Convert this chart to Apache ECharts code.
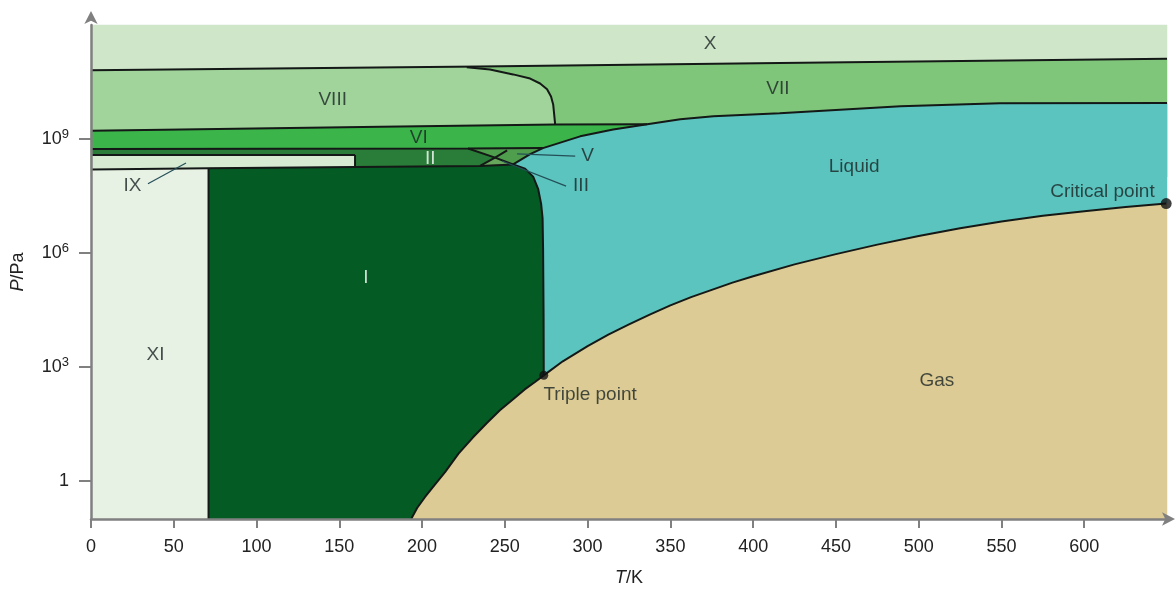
<!DOCTYPE html>
<html>
<head>
<meta charset="utf-8">
<script src="https://cdn.jsdelivr.net/npm/echarts@6/dist/echarts.min.js"></script>
<style>
  html, body { margin: 0; padding: 0; background: #fff; }
  #main { width: 1176px; height: 592px; }
</style>
</head>
<body>
<div id="main"></div>
<script>
// water phase diagram, T in K, pressure stored as log10(P/Pa)

var tTicks = [0, 50, 100, 150, 200, 250, 300, 350, 400, 450, 500, 550, 600];
var pTicks = [0, 3, 6, 9];

// phase boundaries [T, log10 P]
var xTop = [[0, 10.81], [235, 10.91], [416, 11.00], [650, 11.11]];
var viiiViiCurve = [[227, 10.89], [241, 10.83], [255, 10.70], [265.3, 10.59], [271.3, 10.46], [275.5, 10.31], [277.9, 10.12], [279.2, 9.91], [279.8, 9.65], [280.4, 9.38]];
var viTop = [[0, 9.22], [175, 9.32], [280.4, 9.38], [336, 9.39]];
var liquidTop = [[255, 8.33], [265.3, 8.60], [273, 8.76], [295.5, 9.07], [315.4, 9.25], [336, 9.39], [356, 9.52], [376, 9.60], [416, 9.68], [489, 9.86], [549, 9.94], [650, 9.95]];
var viBottom = [[0, 8.74], [227.8, 8.75], [273, 8.76]];
var iTop = [[0, 8.20], [71, 8.23], [159.5, 8.26], [235, 8.29], [255, 8.33]];
var ixTop = [[0, 8.58], [159.5, 8.58]];
var ixRight = [[159.5, 8.58], [159.5, 8.26]];
var meltCurve = [[255, 8.33], [262.2, 8.22], [267.1, 8.01], [270.1, 7.69], [271.9, 7.30], [272.8, 6.91], [273.1, 6.12], [273.4, 4.29], [273.5, 2.78]];
var sublCurve = [[273.5, 2.78], [268, 2.60], [262, 2.41], [255, 2.15], [247, 1.86], [239, 1.52], [230.8, 1.15], [222, 0.72], [214, 0.24], [207.5, -0.11], [201.8, -0.42], [197, -0.71], [193.4, -1]];
var vapCurve = [[273.5, 2.78], [285, 3.15], [300, 3.55], [312.5, 3.85], [325, 4.12], [337.5, 4.38], [350, 4.62], [362.5, 4.84], [375, 5.03], [387.5, 5.22], [400, 5.39], [425, 5.70], [450, 5.97], [475, 6.22], [500, 6.45], [525, 6.65], [550, 6.83], [575, 6.98], [600, 7.10], [625, 7.21], [649.5, 7.30]];
var xiIBoundary = [[71, -1], [71, 8.23]];
var iiVLine = [[227.8, 8.75], [244.1, 8.51], [255, 8.33]];
var iiiLine = [[235, 8.29], [244.1, 8.51], [251.4, 8.70]];

var triplePoint = [273.5, 2.78];
var criticalPoint = [649.5, 7.30];

// label anchors
var regionNames = ['X', 'VIII', 'VII', 'VI', 'II', 'V', 'III', 'IX', 'XI', 'I', 'Liquid', 'Gas', 'Critical point', 'Triple point'];
var regionLabelPos = [[374, 11.51], [146, 10.04], [415, 10.31], [198, 9.02], [205, 8.47], [300, 8.55], [296, 7.77], [25, 7.77], [39, 3.32], [166, 5.34], [461, 8.27], [511, 2.64], [611, 7.61], [301.5, 2.28]];
var pointerIX = [[34.4, 7.82], [57.4, 8.37]];
var pointerV = [[257.4, 8.61], [292.5, 8.55]];
var pointerIII = [[248.3, 8.42], [287, 7.76]];

function rev(a) { return a.slice().reverse(); }

var regions = [
  { name: 'X', color: '#cfe6c9', pts: [[0, 12], [650, 12]].concat(rev(xTop)) },
  { name: 'VII', color: '#80c67a', pts: xTop.concat([[650, 8], [0, 8]]) },
  { name: 'VIII', color: '#a1d49b', pts: [[0, 10.81]].concat(viiiViiCurve, rev(viTop.slice(0, 3))) },
  { name: 'VI', color: '#3bb54a', pts: viTop.concat(rev(liquidTop.slice(2, 6)), rev(viBottom)) },
  { name: 'II', color: '#2a7d39', pts: viBottom.slice(0, 2).concat([[244.1, 8.51], [235, 8.29]], rev(iTop.slice(0, 4))) },
  { name: 'IX', color: '#d6ebd1', pts: ixTop.concat(rev(iTop.slice(0, 3))) },
  { name: 'V', color: '#4f9e4d', pts: viBottom.slice(1).concat(rev(liquidTop.slice(0, 2)), [[244.1, 8.51]]) },
  { name: 'III', color: '#67a75c', pts: [[235, 8.29], [244.1, 8.51], [255, 8.33]] },
  { name: 'I', color: '#045c24', pts: xiIBoundary.concat(iTop.slice(2), meltCurve.slice(1), sublCurve.slice(1)) },
  { name: 'XI', color: '#e7f2e5', pts: [[0, -1]].concat(xiIBoundary, [[0, 8.20]]) },
  { name: 'Liquid', color: '#5bc4bf', pts: rev(meltCurve).concat(liquidTop.slice(1), [[650, 7.30]], rev(vapCurve)) },
  { name: 'Gas', color: '#dccb94', pts: rev(sublCurve).concat(vapCurve.slice(1), [[650, 7.30], [650, -1]]) }
];

var boundaries = [xTop, viiiViiCurve, viTop, liquidTop, viBottom, iTop, ixTop, ixRight, meltCurve, sublCurve, vapCurve, xiIBoundary, iiVLine, iiiLine];
var pointers = [pointerIX, pointerV, pointerIII];

var axisGrey = '#808080';
var textDark = '#1a2424';
var fontFam = 'Liberation Sans, Arial, sans-serif';

var series = [];

series.push({
  type: 'custom',
  silent: true,
  renderItem: function (params, api) {
    var r = regions[params.dataIndex];
    var pts = r.pts.map(function (p) { return api.coord(p); });
    return {
      type: 'polygon',
      shape: { points: pts },
      style: { fill: r.color, stroke: r.color, lineWidth: 0.5 }
    };
  },
  data: regions.map(function (r, i) { return [i]; }),
  z: 1
});

boundaries.forEach(function (b) {
  series.push({
    type: 'line', data: b, showSymbol: false, silent: true, z: 3,
    lineStyle: { color: '#141816', width: 2 }
  });
});

pointers.forEach(function (b) {
  series.push({
    type: 'line', data: b, showSymbol: false, silent: true, z: 4,
    lineStyle: { color: '#244f58', width: 1.2 }
  });
});

series.push({
  type: 'scatter', silent: true, z: 5,
  itemStyle: { color: '#111' },
  data: [
    { value: criticalPoint, symbolSize: 11 },
    { value: triplePoint, symbolSize: 9 }
  ]
});

series.push({
  type: 'scatter', silent: true, z: 6,
  symbolSize: 1,
  itemStyle: { color: 'transparent' },
  label: {
    show: true, position: 'inside', formatter: '{b}',
    fontSize: 19, fontFamily: fontFam, color: textDark
  },
  data: regionNames.map(function (n, i) {
    var d = { name: n, value: regionLabelPos[i] };
    if (n === 'I' || n === 'II') d.label = { color: '#ffffff', fontSize: 19 };
    return d;
  })
});

var chart = echarts.init(document.getElementById('main'), null, { renderer: 'canvas' });

chart.setOption({
  animation: false,
  backgroundColor: '#ffffff',
  textStyle: { fontFamily: fontFam },
  grid: { left: 91, right: 9, top: 25, bottom: 70 },
  xAxis: {
    type: 'value', min: 0, max: 650, interval: 50, z: 10,
    name: '{i|T}/K', nameLocation: 'middle', nameGap: 50,
    nameTextStyle: { fontSize: 18, color: '#222', rich: { i: { fontStyle: 'italic', fontSize: 18, color: '#222' } } },
    axisLine: { onZero: false, lineStyle: { color: axisGrey, width: 2.5 }, symbol: ['none', 'arrow'], symbolSize: [10, 13], symbolOffset: [0, 8] },
    axisTick: { length: 9, lineStyle: { color: axisGrey, width: 2 }, customValues: tTicks },
    axisLabel: { fontSize: 18, color: '#222', margin: 19, customValues: tTicks },
    splitLine: { show: false }
  },
  yAxis: {
    type: 'value', min: -1, max: 12, z: 10,
    name: '{i|P}/Pa', nameLocation: 'middle', nameGap: 64,
    nameTextStyle: { fontSize: 18, color: '#222', rich: { i: { fontStyle: 'italic', fontSize: 18, color: '#222' } } },
    axisLine: { onZero: false, lineStyle: { color: axisGrey, width: 2.5 }, symbol: ['none', 'arrow'], symbolSize: [10, 13], symbolOffset: [0, 14] },
    axisTick: { length: 12, lineStyle: { color: axisGrey, width: 2 }, customValues: pTicks },
    axisLabel: {
      customValues: pTicks, margin: 22, color: '#222', fontSize: 18,
      formatter: function (v) { return v === 0 ? '{b|1}' : '{b|10}{s|' + v + '}'; },
      rich: {
        b: { fontSize: 18, color: '#222' },
        s: { fontSize: 13, color: '#222', verticalAlign: 'top', padding: [0, 0, 9, 0] }
      }
    },
    splitLine: { show: false }
  },
  series: series
});
</script>
</body>
</html>
